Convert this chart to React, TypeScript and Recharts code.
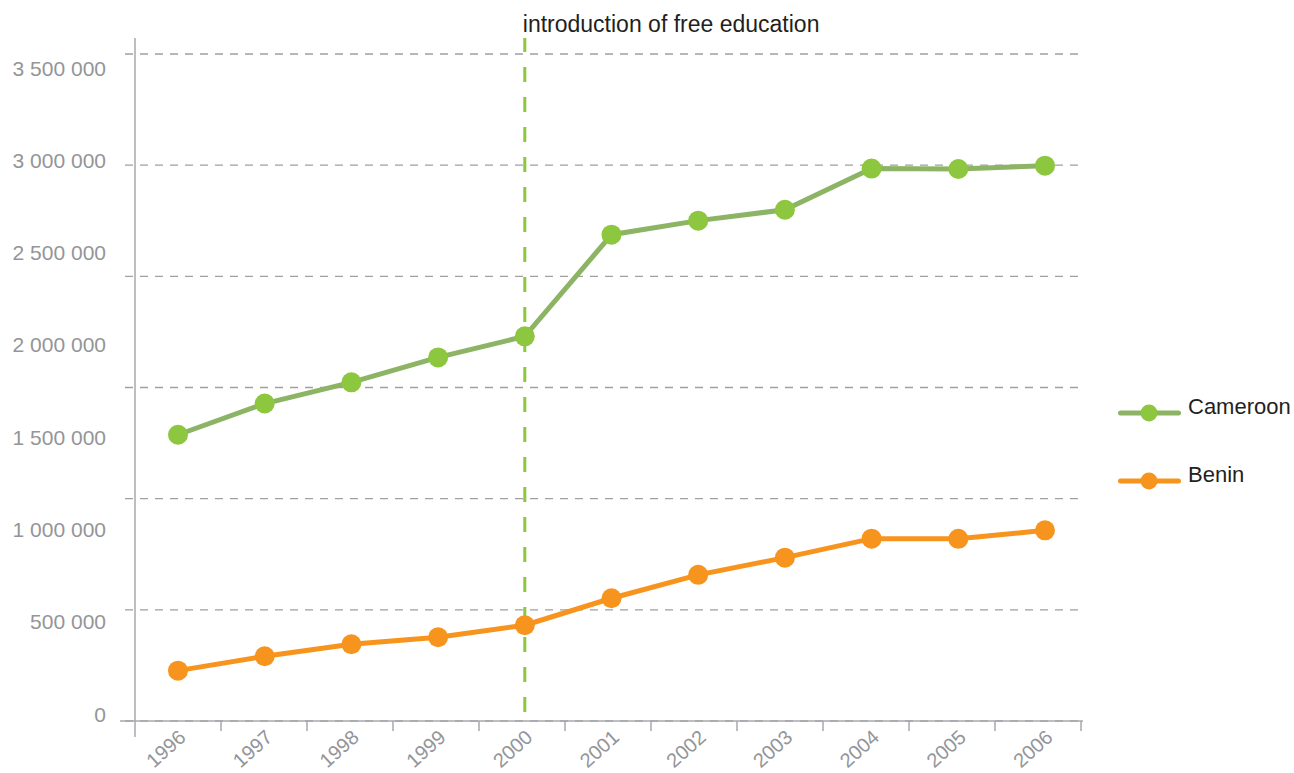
import React from 'react';
import { LineChart, Line, XAxis, YAxis, CartesianGrid, ReferenceLine, Legend } from 'recharts';

// ---- data ----
const years = [1996, 1997, 1998, 1999, 2000, 2001, 2002, 2003, 2004, 2005, 2006];
const cameroon = [1513000, 1682000, 1797000, 1932000, 2046000, 2597000, 2673000, 2732000, 2955000, 2953000, 2971000];
const benin = [235000, 313000, 378000, 416000, 481000, 627000, 754000, 847000, 950000, 949000, 995000];
const yLabelTicks = [0, 500000, 1000000, 1500000, 2000000, 2500000, 3000000, 3500000];
const gridTicks = [0, 500000, 1000000, 1500000, 2000000, 2500000, 3000000];
const boundaryTicks = [1995.5, 1996.5, 1997.5, 1998.5, 1999.5, 2000.5, 2001.5, 2002.5, 2003.5, 2004.5, 2005.5, 2006.5];
const freeEducationYear = 2000;
const annotationText = 'introduction of free education';
const seriesNames = ['Cameroon', 'Benin'];

const data = years.map((year, i) => ({ year, Cameroon: cameroon[i], Benin: benin[i] }));

// ---- styles ----
const FONT = '"Liberation Sans", Arial, Helvetica, sans-serif';
const AXIS = '#a7a9ac';
const GRID = '#a0a0a0';
const LABEL = '#939598';
const DARK = '#231f20';
const lineColors: Record<string, string> = { Cameroon: '#8cb464', Benin: '#f7941d' };
const dotColors: Record<string, string> = { Cameroon: '#8dc63f', Benin: '#f7941d' };
const EDU = '#8dc63f';

const fmt = (v: number) => String(v).replace(/\B(?=(\d{3})+(?!\d))/g, ' ');

const YLabelTick = (props: any) => {
  const { x, y, payload } = props;
  return (
    <text x={x} y={y} dy="0.36em" textAnchor="end" fill={LABEL} fontSize={21} fontFamily={FONT}>
      {fmt(payload.value)}
    </text>
  );
};

const XLabelTick = (props: any) => {
  const { x, y, payload } = props;
  const ax = x + 9;
  const ay = y + 8;
  return (
    <text x={ax} y={ay} textAnchor="end" transform={`rotate(-42 ${ax} ${ay})`} fill={LABEL} fontSize={20} fontFamily={FONT}>
      {payload.value}
    </text>
  );
};

const BoundaryTick = (props: any) => {
  const { x, y, index } = props;
  return <line x1={x} x2={x} y1={y} y2={y + (index === 0 ? 16 : 10)} stroke={AXIS} strokeWidth={1.5} />;
};

const AnnotationLabel = (props: any) => {
  const vb = props.viewBox || {};
  return (
    <text x={vb.x - 2} y={vb.y - 6} textAnchor="start" fill={DARK} fontSize={23} fontFamily={FONT}>
      {annotationText}
    </text>
  );
};

const LegendContent = (props: any) => {
  const payload = [...(props.payload || [])].sort(
    (a: any, b: any) => seriesNames.indexOf(String(a.value)) - seriesNames.indexOf(String(b.value))
  );
  return (
    <svg width={176} height={110} style={{ display: 'block', overflow: 'visible' }}>
      {payload.map((p: any, i: number) => {
        const cy = 23 + 68 * i;
        const name = String(p.value);
        return (
          <g key={name}>
            <line x1={2.5} x2={60.5} y1={cy} y2={cy} stroke={lineColors[name]} strokeWidth={5} strokeLinecap="round" />
            <circle cx={31} cy={cy} r={8.5} fill={dotColors[name]} />
            <text x={70} y={cy + 1} fill={DARK} fontSize={22} fontFamily={FONT}>
              {name}
            </text>
          </g>
        );
      })}
    </svg>
  );
};

export default function App() {
  return (
    <div style={{ position: 'absolute', left: 0, top: 0, width: 1294, height: 773, background: '#fff' }}>
      <LineChart width={1294} height={773} data={data} margin={{ top: 38, right: 211, bottom: 0, left: 0 }}>
        <XAxis
          xAxisId="bd"
          type="number"
          dataKey="year"
          domain={[1995.5, 2006.5]}
          padding={{ left: 15, right: 2 }}
          ticks={boundaryTicks}
          interval={0}
          tick={<BoundaryTick />}
          tickLine={false}
          tickSize={0}
          tickMargin={0}
          axisLine={{ stroke: AXIS, strokeWidth: 1.5 }}
          height={10}
        />
        <XAxis
          xAxisId="yr"
          type="number"
          dataKey="year"
          domain={[1996, 2006]}
          padding={{ left: 58, right: 38 }}
          ticks={years}
          interval={0}
          tick={<XLabelTick />}
          tickLine={false}
          tickSize={0}
          tickMargin={0}
          axisLine={false}
          height={42}
        />
        <YAxis
          yAxisId="l"
          type="number"
          domain={[0, 3500000]}
          padding={{ top: 30, bottom: 7 }}
          ticks={yLabelTicks}
          interval={0}
          tick={<YLabelTick />}
          tickLine={false}
          tickSize={0}
          tickMargin={14}
          axisLine={false}
          width={120}
        />
        <YAxis
          yAxisId="g"
          type="number"
          domain={[0, 3000000]}
          padding={{ top: 16, bottom: 0 }}
          allowDataOverflow
          ticks={gridTicks}
          hide
          width={0}
        />
        <CartesianGrid
          xAxisId="bd"
          yAxisId="g"
          vertical={false}
          syncWithTicks
          stroke={GRID}
          strokeWidth={1.3}
          strokeDasharray="8 7"
          strokeDashoffset={10}
        />
        <ReferenceLine xAxisId="bd" yAxisId="g" x={1995.5} stroke={AXIS} strokeWidth={1.5} />
        <ReferenceLine
          xAxisId="yr"
          yAxisId="l"
          x={freeEducationYear}
          stroke={EDU}
          strokeWidth={3}
          strokeDasharray="15 15"
          strokeDashoffset={21}
          label={<AnnotationLabel />}
        />
        {seriesNames.map((name) => (
          <Line
            key={name}
            xAxisId="yr"
            yAxisId="l"
            type="linear"
            dataKey={name}
            name={name}
            stroke={lineColors[name]}
            strokeWidth={5}
            dot={{ r: 10, fill: dotColors[name], stroke: dotColors[name], strokeWidth: 0 }}
            activeDot={false}
            isAnimationActive={false}
          />
        ))}
        <Legend
          layout="horizontal"
          align="center"
          verticalAlign="middle"
          wrapperStyle={{ left: 1118, top: 390, width: 176, height: 110 }}
          content={<LegendContent />}
        />
      </LineChart>
    </div>
  );
}
